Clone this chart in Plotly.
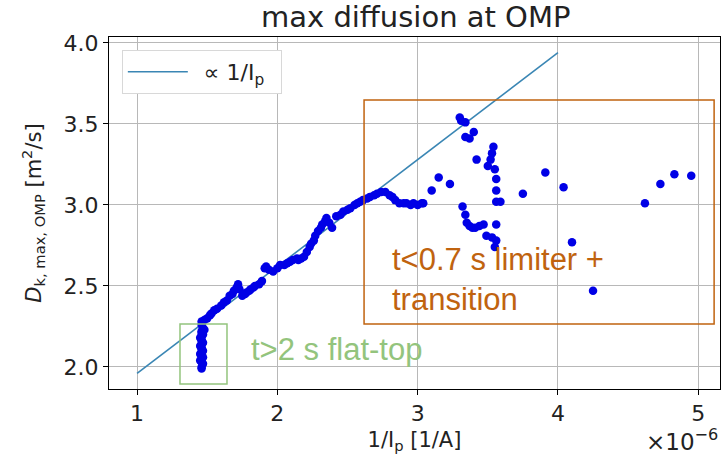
import plotly.graph_objects as go

# 1/Ip in units of 1e-6 1/A, D in m^2/s
flat_top_x = [1.46, 1.46, 1.47, 1.46, 1.45, 1.46, 1.47, 1.46, 1.45, 1.46, 1.47, 1.46, 1.46,
              1.45, 1.46, 1.47, 1.46, 1.46, 1.45, 1.46, 1.47, 1.46, 1.46, 1.48, 1.47, 1.46]
flat_top_y = [1.99, 2.00, 2.02, 2.03, 2.04, 2.05, 2.06, 2.07, 2.08, 2.09, 2.10, 2.11, 2.12,
              2.13, 2.14, 2.15, 2.16, 2.17, 2.18, 2.19, 2.20, 2.21, 2.22, 2.23, 2.24, 2.26]

ramp_x = [1.46, 1.48, 1.50, 1.52, 1.53, 1.55, 1.57, 1.60, 1.62, 1.64, 1.66, 1.68, 1.69, 1.71,
          1.72, 1.73, 1.75, 1.77, 1.78, 1.80, 1.81, 1.83, 1.84, 1.87, 1.89, 1.91, 1.92, 1.94,
          1.97, 2.00, 2.02, 2.05, 2.07, 2.09, 2.11, 2.14, 2.15, 2.17, 2.19, 2.21, 2.23, 2.24,
          2.26, 2.27, 2.29, 2.31, 2.32, 2.34, 2.35, 2.37, 2.39, 2.42, 2.45, 2.47, 2.50, 2.52,
          2.55, 2.57, 2.59, 2.61, 2.64, 2.66, 2.69, 2.71, 2.74, 2.77, 2.80, 2.82, 2.84, 2.87,
          2.90, 2.92, 2.95, 2.97, 3.00, 3.03]
ramp_y = [2.28, 2.29, 2.30, 2.32, 2.33, 2.35, 2.36, 2.38, 2.40, 2.41, 2.44, 2.45, 2.47, 2.49,
          2.51, 2.48, 2.44, 2.45, 2.46, 2.47, 2.48, 2.49, 2.50, 2.51, 2.53, 2.61, 2.62, 2.60,
          2.59, 2.61, 2.63, 2.63, 2.64, 2.65, 2.66, 2.67, 2.66, 2.67, 2.68, 2.71, 2.74, 2.76,
          2.78, 2.81, 2.84, 2.86, 2.88, 2.90, 2.92, 2.89, 2.86, 2.93, 2.94, 2.96, 2.97, 2.98,
          3.00, 3.01, 3.02, 3.03, 3.04, 3.05, 3.06, 3.07, 3.08, 3.08, 3.06, 3.05, 3.03, 3.01,
          3.01, 3.01, 3.00, 3.01, 3.00, 3.01]

limiter_x = [3.04, 3.10, 3.15, 3.23, 3.30, 3.31, 3.34, 3.34, 3.37, 3.40, 3.42, 3.32, 3.34,
             3.35, 3.37, 3.39, 3.41, 3.44, 3.47, 3.49, 3.53, 3.55, 3.56, 3.56, 3.50, 3.52,
             3.53, 3.54, 3.55, 3.56, 3.56, 3.56, 3.59, 3.75, 3.91, 4.04, 4.10, 4.25, 4.62,
             4.73, 4.83, 4.95]
limiter_y = [3.01, 3.09, 3.17, 3.13, 3.54, 3.52, 3.51, 3.42, 3.41, 3.45, 3.28, 2.99, 2.94,
             2.89, 2.87, 2.86, 2.86, 2.87, 2.88, 2.81, 2.80, 2.74, 2.88, 2.78, 3.24, 3.28,
             3.32, 3.36, 3.22, 3.16, 3.09, 3.02, 3.02, 3.07, 3.20, 3.11, 2.77, 2.47, 3.01,
             3.13, 3.19, 3.18]

fit_x = [1.0, 4.0]
fit_y = [1.96, 3.94]

blue = "#0000e6"
fig = go.Figure()

fig.add_trace(go.Scatter(
    x=fit_x, y=fit_y, mode="lines", name="\u2002\u221d 1/I<sub>p</sub>\u2002",
    line=dict(color="#3a86b4", width=1.6),
))
for xs, ys in [(flat_top_x, flat_top_y), (ramp_x, ramp_y), (limiter_x, limiter_y)]:
    fig.add_trace(go.Scatter(
        x=xs, y=ys, mode="markers", showlegend=False,
        marker=dict(color=blue, size=8.5),
    ))

# annotation boxes
fig.add_shape(type="rect", x0=1.306, x1=1.641, y0=1.895, y1=2.265,
              line=dict(color="#93c47d", width=1.5))
fig.add_shape(type="rect", x0=2.618, x1=5.113, y0=2.265, y1=3.648,
              line=dict(color="#c0630f", width=1.5))

ann_font = "Liberation Sans, Arial, sans-serif"
fig.add_annotation(x=1.80, y=2.105, xanchor="left", yanchor="middle", showarrow=False,
                   text="t>2 s flat-top",
                   font=dict(family=ann_font, size=31, color="#93c47d"))
fig.add_annotation(x=2.80, y=2.54, xanchor="left", yanchor="middle", showarrow=False,
                   text="t<0.7 s limiter +<br>transition", align="left",
                   font=dict(family=ann_font, size=31, color="#c0630f"))
fig.add_annotation(xref="paper", yref="paper", x=1.0, y=-0.097, xanchor="right", yanchor="top",
                   showarrow=False, text="\u00d710<sup>\u22126</sup>",
                   font=dict(size=23, color="#222"))

axis_common = dict(
    showline=True, linecolor="black", linewidth=1, mirror=True,
    ticks="outside", ticklen=5, tickcolor="black",
    showgrid=True, gridcolor="#b8b8b8", gridwidth=1,
    zeroline=False, tickfont=dict(size=22, color="#222"), automargin=False,
)

fig.update_layout(
    width=723, height=454,
    margin=dict(l=109, r=3, t=37, b=65),
    paper_bgcolor="white", plot_bgcolor="white",
    font=dict(family="DejaVu Sans", color="#222"),
    title=dict(text="max diffusion at OMP", x=0.575, xanchor="center",
               y=0.962, yanchor="middle", yref="container",
               font=dict(size=29, color="#222")),
    xaxis=dict(range=[0.80, 5.155], tickvals=[1, 2, 3, 4, 5],
               title=dict(text="1/I<sub>p</sub> [1/A]", font=dict(size=21), standoff=8),
               **axis_common),
    yaxis=dict(range=[1.864, 4.037], tickvals=[2.0, 2.5, 3.0, 3.5, 4.0], tickformat=".1f",
               title=dict(text="<i>D</i><sub>k, max, OMP</sub> [m<sup>2</sup>/s]",
                          font=dict(size=21), standoff=16),
               **axis_common),
    legend=dict(x=0.021, y=0.963, xanchor="left", yanchor="top",
                bgcolor="white", bordercolor="#d8d8d8", borderwidth=1,
                itemwidth=60, font=dict(size=22, color="#222")),
)

# drop the browser's default body margin so the figure sits at the page corner
fig.write_html("out.html", config={"displayModeBar": False},
               post_script="document.body.style.margin='0px';")
